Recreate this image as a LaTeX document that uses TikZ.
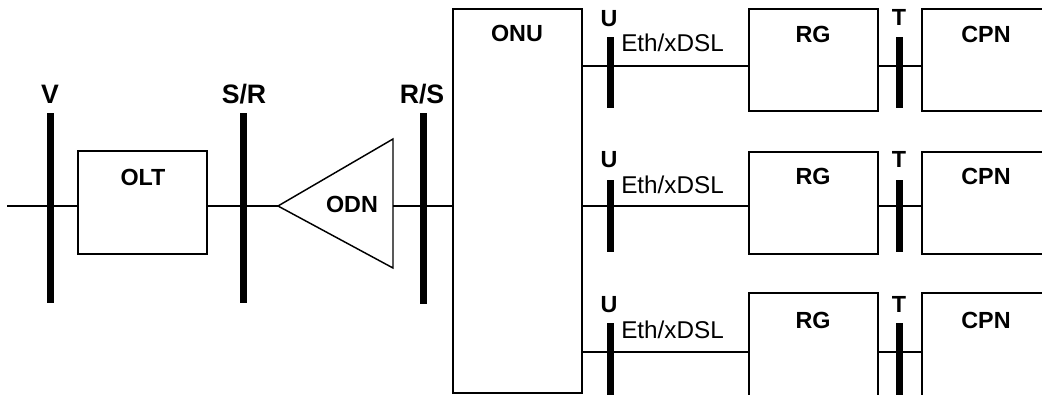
\documentclass[tikz,border=0pt]{standalone}
\usepackage{fontspec}
\setmainfont{Liberation Sans}
\begin{document}
\begin{tikzpicture}[x=0.75pt,y=-0.75pt,
  thin/.style={line width=1.1pt},
  box/.style={draw, line width=1.1pt, inner sep=0pt, minimum width=129*0.75pt},
  bar/.style={fill=black, draw=none, inner sep=0pt, minimum width=7*0.75pt},
  lbl/.style={font=\fontsize{17.5}{20}\selectfont\bfseries, inner sep=0pt, anchor=base},
  biglbl/.style={lbl, font=\fontsize{20}{22}\selectfont\bfseries},
  ifl/.style={font=\fontsize{18.2}{20}\selectfont, inner sep=0pt, anchor=base west}]
\useasboundingbox (0,0) rectangle (1042,395);
\clip (0,0) rectangle (1042,395);

% boxes
\node[box, minimum height=103*0.75pt] (olt) at (142.5,202.5) {};
\node[box, minimum height=384*0.75pt] (onu) at (517.5,201) {};
\node[box, minimum height=102*0.75pt] (rg1) at (813.5,60) {};
\node[box, minimum height=102*0.75pt] (rg2) at (813.5,203) {};
\node[box, minimum height=112*0.75pt] (rg3) at (813.5,349) {};
\node[box, minimum height=102*0.75pt] (cpn1) at (986.5,60) {};
\node[box, minimum height=102*0.75pt] (cpn2) at (986.5,203) {};
\node[box, minimum height=112*0.75pt] (cpn3) at (986.5,349) {};

% ODN triangle
\coordinate (odnTip) at (278,206);
\coordinate (odnTop) at (393,139);
\coordinate (odnBot) at (393,268);
\coordinate (odnR) at (393,206);
\draw[thin, line join=miter] (odnTip) -- (odnTop) -- (odnBot) -- cycle;

% connectors
\coordinate (in) at (7,206);
\coordinate (r1) at (0,66);
\coordinate (r2) at (0,206);
\coordinate (r3) at (0,352);
\draw[thin] (in) -- (olt.west |- in);
\draw[thin] (olt.east |- in) -- (odnTip);
\draw[thin] (odnR) -- (odnR -| onu.west);
\foreach \r in {1,2,3}{
  \draw[thin] (r\r -| onu.east) -- (r\r -| rg\r.west);
  \draw[thin] (r\r -| rg\r.east) -- (r\r -| cpn\r.west);
}

% reference-point bars
\node[bar, minimum height=190*0.75pt] (vbar) at (50,208) {};
\node[bar, minimum height=190*0.75pt] (srbar) at (243,208) {};
\node[bar, minimum height=191*0.75pt] (rsbar) at (423,208.5) {};
\node[bar, minimum height=71*0.75pt] (u1) at (610,72.5) {};
\node[bar, minimum height=72*0.75pt] (u2) at (610,216) {};
\node[bar, minimum height=80*0.75pt] (u3) at (610,363) {};
\node[bar, minimum height=71*0.75pt] (t1) at (899,72.5) {};
\node[bar, minimum height=72*0.75pt] (t2) at (899,216) {};
\node[bar, minimum height=80*0.75pt] (t3) at (899,363) {};

% labels
\node[biglbl] (lv) at (50,104) {V};
\node[biglbl] (lsr) at (244,104) {S/R};
\node[biglbl] (lrs) at (422,104) {R/S};
\node[lbl] (lolt) at (143,186) {OLT};
\node[lbl] (lodn) at (352,213) {ODN};
\node[lbl] (lonu) at (517,42) {ONU};
\node[lbl] (lu1) at (609,27) {U};
\node[lbl] (lu2) at (609,168) {U};
\node[lbl] (lu3) at (609,312) {U};
\node[lbl] (lt1) at (899,26) {T};
\node[lbl] (lt2) at (899,168) {T};
\node[lbl] (lt3) at (899,312) {T};
\node[lbl] (lrg1) at (813,42.5) {RG};
\node[lbl] (lrg2) at (813,185) {RG};
\node[lbl] (lrg3) at (813,328) {RG};
\node[lbl] (lcpn1) at (986,42.5) {CPN};
\node[lbl] (lcpn2) at (986,185) {CPN};
\node[lbl] (lcpn3) at (986,328) {CPN};
\node[ifl] (e1) at (621,51.5) {Eth/xDSL};
\node[ifl] (e2) at (621,194) {Eth/xDSL};
\node[ifl] (e3) at (621,338) {Eth/xDSL};
\end{tikzpicture}
\end{document}
